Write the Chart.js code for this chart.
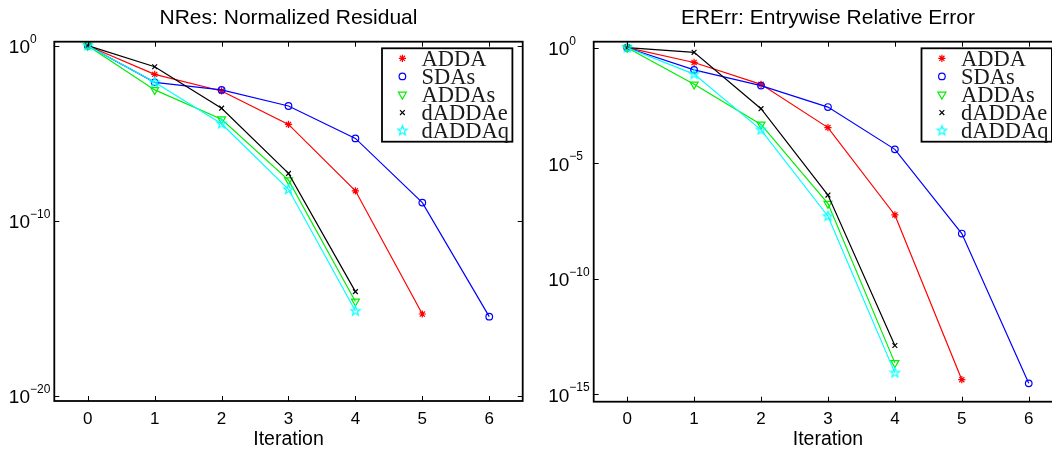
<!DOCTYPE html>
<html>
<head>
<meta charset="utf-8">
<title>Convergence: NRes and ERErr</title>
<script src="https://cdn.jsdelivr.net/npm/chart.js@4.4.1/dist/chart.umd.min.js"></script>
<style>
  html, body { margin: 0; padding: 0; background: #fff; overflow: hidden; }
  #wrap { position: relative; width: 1052px; height: 451px; overflow: hidden; }
  canvas { position: absolute; top: 0; }
  #nresChart { left: 0; }
  #ererrChart { left: 525px; }
</style>
</head>
<body>
<div id="wrap">
  <canvas id="nresChart" width="530" height="451" style="width:530px;height:451px"></canvas>
  <canvas id="ererrChart" width="545" height="451" style="width:545px;height:451px"></canvas>
</div>
<script>
const iterations = [0, 1, 2, 3, 4, 5, 6];
const seriesNames = ['ADDA', 'SDAs', 'ADDAs', 'dADDAe', 'dADDAq'];

// NRes: normalized residual per iteration
const nresADDA   = [1, 2.3e-2, 2.6e-3, 3.2e-5, 5.2e-9, 4.8e-16];
const nresSDAs   = [1, 8.1e-3, 3.0e-3, 3.6e-4, 5.1e-6, 1.1e-9, 3.4e-16];
const nresADDAs  = [1, 3.0e-3, 6.3e-5, 2.1e-8, 2.5e-15];
const nresDADDAe = [1, 6.3e-2, 2.7e-4, 5.1e-8, 9.1e-15];
const nresDADDAq = [1, 8.1e-3, 3.5e-5, 6.3e-9, 7.1e-16];

// ERErr: entrywise relative error per iteration
const ererrADDA   = [1, 2.3e-1, 2.6e-2, 3.5e-4, 5.8e-8, 4.3e-15];
const ererrSDAs   = [1, 1.1e-1, 2.3e-2, 2.7e-3, 4.0e-5, 9.1e-9, 3.0e-15];
const ererrADDAs  = [1, 2.6e-2, 4.8e-4, 1.8e-7, 2.3e-14];
const ererrDADDAe = [1, 6.3e-1, 2.3e-3, 4.2e-7, 1.3e-13];
const ererrDADDAq = [1, 7.2e-2, 2.8e-4, 5.1e-8, 8.5e-15];

// decade tick exponents on the y axes
const nresTickExponents = [0, -10, -20];
const ererrTickExponents = [0, -5, -10, -15];

function makePentagram(color) {
  const c = document.createElement('canvas');
  c.width = 13;
  c.height = 13;
  const g = c.getContext('2d');
  g.strokeStyle = color;
  g.lineWidth = 1.2;
  g.beginPath();
  for (let k = 0; k < 10; k++) {
    const r = k % 2 === 0 ? 5 : 2.1;
    const a = -Math.PI / 2 + k * Math.PI / 5;
    const px = 6.5 + r * Math.cos(a);
    const py = 6.5 + r * Math.sin(a);
    if (k === 0) g.moveTo(px, py); else g.lineTo(px, py);
  }
  g.closePath();
  g.stroke();
  return c;
}

const seriesStyles = [
  { color: '#ff0000', pointStyle: 'star', radius: 3.6, rotation: 0 },
  { color: '#0000ff', pointStyle: 'circle', radius: 3.3, rotation: 0 },
  { color: '#00ee00', pointStyle: 'triangle', radius: 4.6, rotation: 180 },
  { color: '#000000', pointStyle: 'crossRot', radius: 3.4, rotation: 0 },
  { color: '#00ffff', pointStyle: makePentagram('#00ffff'), radius: 5, rotation: 0 }
];

function buildDatasets(seriesList) {
  return seriesList.map((values, i) => {
    const s = seriesStyles[i];
    return {
      label: seriesNames[i],
      data: values.map((v, k) => ({ x: iterations[k], y: v })),
      borderColor: s.color,
      backgroundColor: 'rgba(0,0,0,0)',
      borderWidth: 1.2,
      pointStyle: s.pointStyle,
      pointRadius: s.radius,
      pointRotation: s.rotation,
      pointBorderColor: s.color,
      pointBackgroundColor: 'rgba(0,0,0,0)',
      pointBorderWidth: 1.2,
      tension: 0,
      order: seriesList.length - i
    };
  });
}

const SANS = '"Liberation Sans", Arial, sans-serif';
const SERIF = '"Liberation Serif", "Times New Roman", serif';

function supText(exp) {
  return exp === 0 ? '0' : '\u2212' + Math.abs(exp);
}

// axes box, inward ticks, labels, title and legend drawn after the data
const matlabAxes = {
  id: 'matlabAxes',
  afterDraw(chart, args, opts) {
    const ctx = chart.ctx;
    const area = chart.chartArea;
    const xs = chart.scales.x;
    const ys = chart.scales.y;
    ctx.save();

    // ticks on all four sides
    ctx.strokeStyle = '#000';
    ctx.lineWidth = 1;
    ctx.beginPath();
    for (const t of iterations) {
      const px = Math.round(xs.getPixelForValue(t)) + 0.5;
      ctx.moveTo(px, area.bottom); ctx.lineTo(px, area.bottom - 5);
      ctx.moveTo(px, area.top); ctx.lineTo(px, area.top + 5);
    }
    for (const e of opts.exponents) {
      const py = Math.round(ys.getPixelForValue(Math.pow(10, e))) + 0.5;
      ctx.moveTo(area.left, py); ctx.lineTo(area.left + 5, py);
      ctx.moveTo(area.right, py); ctx.lineTo(area.right - 5, py);
    }
    ctx.stroke();

    // box
    ctx.lineWidth = 1.8;
    ctx.strokeRect(area.left, area.top, area.right - area.left, area.bottom - area.top);

    ctx.fillStyle = '#000';

    // y tick labels 10^e, the "10" parts share one left edge
    const baseFont = '19px ' + SANS;
    const supFont = '12px ' + SANS;
    ctx.font = baseFont;
    const baseW = ctx.measureText('10').width;
    ctx.font = supFont;
    let maxW = 0;
    for (const e of opts.exponents) {
      maxW = Math.max(maxW, baseW + ctx.measureText(supText(e)).width);
    }
    const labelLeft = area.left - 4 - maxW;
    ctx.textAlign = 'left';
    ctx.textBaseline = 'alphabetic';
    for (const e of opts.exponents) {
      const py = ys.getPixelForValue(Math.pow(10, e));
      ctx.font = baseFont;
      ctx.fillText('10', labelLeft, py + 7.3);
      ctx.font = supFont;
      ctx.fillText(supText(e), labelLeft + baseW, py - 3);
    }

    // x tick labels
    ctx.textAlign = 'center';
    ctx.font = '17px ' + SANS;
    for (const t of iterations) {
      ctx.fillText(String(t), xs.getPixelForValue(t), area.bottom + 22.5);
    }

    const cx = (area.left + area.right) / 2;
    ctx.font = '19.5px ' + SANS;
    ctx.fillText(opts.xLabel, cx, area.bottom + 43.5);
    ctx.font = '21px ' + SANS;
    ctx.fillText(opts.title, cx, 24);

    // legend
    const boxW = 130.4;
    const boxH = 93.4;
    const boxRight = area.right - 10.3;
    const boxLeft = boxRight - boxW;
    const boxTop = area.top + 6.6;
    ctx.fillStyle = '#fff';
    ctx.fillRect(boxLeft, boxTop, boxW, boxH);
    ctx.strokeStyle = '#000';
    ctx.lineWidth = 1.8;
    ctx.strokeRect(boxLeft, boxTop, boxW, boxH);

    ctx.textAlign = 'left';
    ctx.font = '22.5px ' + SERIF;
    chart.data.datasets.forEach((ds, i) => {
      const baseline = boxTop + 17.7 + i * 18.1;
      const my = baseline - 7.7;
      const mx = boxLeft + 20.4;
      ctx.save();
      ctx.strokeStyle = ds.pointBorderColor;
      ctx.fillStyle = 'rgba(0,0,0,0)';
      ctx.lineWidth = 1.2;
      Chart.helpers.drawPoint(ctx, {
        pointStyle: ds.pointStyle,
        rotation: ds.pointRotation,
        radius: ds.pointRadius,
        borderWidth: 1.2
      }, mx, my);
      ctx.restore();
      ctx.fillStyle = '#1a1a1a';
      ctx.fillText(ds.label, boxLeft + 39.4, baseline);
    });

    ctx.restore();
  }
};

function makeChart(canvasId, seriesList, exponents, yMin, yMax, padding, title) {
  const ctx = document.getElementById(canvasId).getContext('2d');
  return new Chart(ctx, {
    type: 'line',
    data: { datasets: buildDatasets(seriesList) },
    options: {
      responsive: false,
      animation: false,
      events: [],
      layout: { padding },
      plugins: {
        legend: { display: false },
        tooltip: { enabled: false },
        title: { display: false },
        matlabAxes: { exponents, title, xLabel: 'Iteration' }
      },
      scales: {
        x: { type: 'linear', min: -0.5, max: 6.5, bounds: 'data', display: false },
        y: { type: 'logarithmic', min: yMin, max: yMax, bounds: 'data', display: false }
      }
    },
    plugins: [matlabAxes]
  });
}

makeChart('nresChart',
  [nresADDA, nresSDAs, nresADDAs, nresDADDAe, nresDADDAq],
  nresTickExponents, Math.pow(10, -20.285), Math.pow(10, 0.228),
  { left: 54.3, right: 7.3, top: 41.7, bottom: 50 },
  'NRes: Normalized Residual');

makeChart('ererrChart',
  [ererrADDA, ererrSDAs, ererrADDAs, ererrDADDAe, ererrDADDAq],
  ererrTickExponents, Math.pow(10, -15.318), Math.pow(10, 0.26),
  { left: 68.7, right: 7.8, top: 41.7, bottom: 49.3 },
  'ERErr: Entrywise Relative Error');
</script>
</body>
</html>
